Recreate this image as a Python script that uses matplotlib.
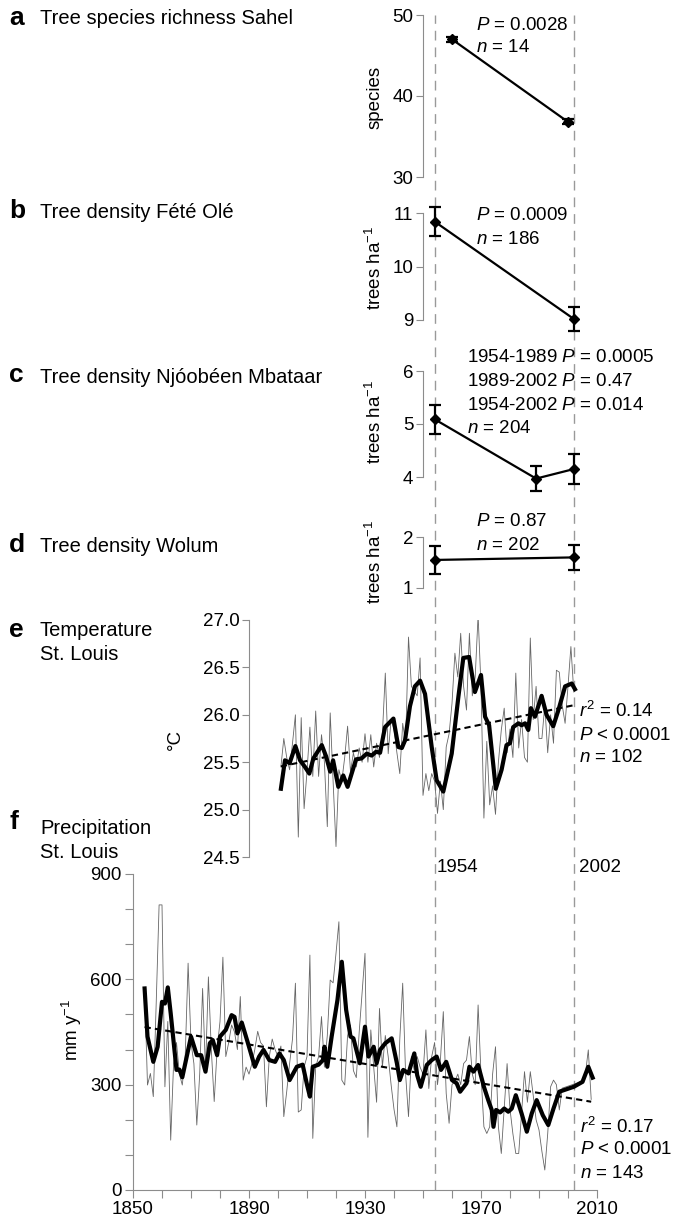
import numpy as np
import matplotlib.pyplot as plt

plt.rcParams['font.family'] = ['Liberation Sans', 'DejaVu Sans']
plt.rcParams['mathtext.fontset'] = 'custom'
plt.rcParams['mathtext.rm'] = 'Liberation Sans'
plt.rcParams['mathtext.it'] = 'Liberation Sans:italic'
plt.rcParams['mathtext.default'] = 'regular'

# ---- tree surveys (mean +/- error) ----
rich_years = [1960, 2000]
rich_vals = [47, 36.8]
rich_err = [0.3, 0.3]

fete_years = [1954, 2002]
fete_vals = [10.84, 9.02]
fete_err = [0.27, 0.23]

njoo_years = [1954, 1989, 2002]
njoo_vals = [5.09, 3.97, 4.15]
njoo_err = [0.27, 0.23, 0.29]

wolum_years = [1954, 2002]
wolum_vals = [1.55, 1.60]
wolum_err = [0.28, 0.24]

# ---- temperature St. Louis, annual mean (1901-2002) ----
temp_years = np.arange(1901, 2003)
temp_vals = [25.45, 25.75, 25.55, 25.42, 25.70, 26.00, 24.71, 25.97, 25.01, 25.40,
             25.87, 25.35, 26.04, 25.35, 25.79, 25.50, 24.82, 26.02, 25.30, 24.61,
             25.42, 25.30, 25.55, 25.88, 25.40, 25.60, 25.45, 25.65, 25.50, 25.80,
             25.50, 25.79, 25.45, 25.70, 25.55, 25.80, 26.44, 25.59, 25.95, 25.85,
             25.60, 25.38, 25.91, 25.70, 26.82, 26.30, 26.25, 26.20, 26.60, 25.15,
             25.38, 25.20, 25.38, 25.30, 24.96, 25.30, 25.00, 25.66, 25.80, 26.12,
             26.65, 26.40, 26.86, 26.30, 26.05, 26.86, 26.20, 26.40, 27.05, 26.30,
             24.91, 25.72, 25.05, 25.25, 24.95, 25.50, 25.84, 26.07, 25.60, 25.85,
             25.55, 26.44, 25.65, 25.95, 25.55, 25.50, 26.81, 25.95, 26.30, 25.75,
             25.75, 26.10, 25.60, 26.00, 25.70, 26.47, 26.45, 26.10, 25.91, 26.30,
             26.72, 26.24]

# smoothed temperature
temp_sm_years = [1901, 1902.4, 1904, 1906, 1907.6, 1909.3, 1910.8, 1912.2, 1915.1, 1916.6,
                 1918, 1919, 1920.8, 1922.5, 1924, 1926.9, 1928.8, 1930.6, 1932.3, 1933.8,
                 1935.2, 1936.9, 1939.8, 1941.5, 1942.7, 1943.8, 1945.5, 1947.2, 1949, 1950.7,
                 1951.8, 1953, 1954.7, 1957, 1959.9, 1962.2, 1963.9, 1965.9, 1967.9, 1970,
                 1971.4, 1972.8, 1975.1, 1977.1, 1978.8, 1980, 1981.1, 1982.9, 1984, 1985.2,
                 1986.3, 1987.2, 1988.6, 1990.9, 1992.6, 1994.9, 1996.7, 1999, 2001.3, 2002.4]
temp_sm = [25.22, 25.52, 25.49, 25.67, 25.52, 25.45, 25.38, 25.54, 25.68, 25.56,
           25.40, 25.52, 25.24, 25.36, 25.24, 25.53, 25.54, 25.59, 25.57, 25.61,
           25.60, 25.87, 25.96, 25.66, 25.65, 25.73, 26.09, 26.30, 26.36, 26.22,
           25.95, 25.66, 25.31, 25.19, 25.59, 26.19, 26.60, 26.61, 26.24, 26.42,
           25.98, 25.89, 25.22, 25.42, 25.68, 25.70, 25.87, 25.91, 25.89, 25.91,
           25.84, 26.07, 25.98, 26.20, 26.00, 25.88, 26.05, 26.30, 26.33, 26.27]

# ---- precipitation St. Louis, annual total ----
prec_years = list(range(1854, 1999)) + [2005, 2006, 2007, 2008]
prec_vals = [575, 299, 332, 266, 532, 812, 812, 294, 480, 142,
             361, 420, 330, 299, 380, 646, 420, 360, 185, 330,
             574, 340, 607, 400, 252, 400, 480, 663, 380, 420,
             470, 450, 400, 551, 313, 350, 330, 360, 400, 452,
             420, 410, 237, 380, 430, 400, 380, 410, 209, 280,
             360, 430, 589, 222, 228, 350, 380, 669, 147, 350,
             380, 494, 350, 440, 598, 590, 674, 764, 313, 299,
             440, 470, 340, 320, 450, 560, 674, 150, 456, 350,
             250, 517, 350, 440, 380, 300, 230, 180, 430, 589,
             330, 209, 380, 340, 380, 350, 330, 456, 289, 380,
             420, 300, 370, 508, 275, 190, 300, 310, 330, 300,
             360, 370, 437, 330, 300, 527, 330, 180, 161, 180,
             330, 408, 180, 104, 230, 360, 230, 160, 104, 104,
             220, 337, 250, 337, 270, 200, 171, 110, 57, 160,
             294, 313, 300, 228, 290,
             310, 330, 399, 258]

# smoothed precipitation
prec_sm_years = [1854, 1855, 1857, 1858.5, 1860, 1861, 1862, 1863, 1865, 1866,
                 1867, 1870, 1872, 1873.5, 1875, 1876.5, 1877.5, 1879, 1880, 1882,
                 1884, 1885, 1886, 1887.5, 1889.5, 1892, 1893.5, 1895, 1897, 1899,
                 1900.5, 1902, 1904, 1906.5, 1908.5, 1910, 1911, 1912, 1914, 1915.5,
                 1916, 1917, 1918.5, 1920.5, 1922, 1923.5, 1925, 1926, 1928.2, 1930,
                 1931.2, 1933, 1934, 1935.2, 1937, 1939.2, 1941, 1942, 1943.2, 1945,
                 1947, 1948, 1949.2, 1951.3, 1953, 1954.7, 1956.2, 1958, 1960, 1961.6,
                 1962.8, 1965, 1966, 1967.4, 1969, 1971, 1972.5, 1973.7, 1974.3, 1975.2,
                 1976.6, 1978, 1979.4, 1980.6, 1982, 1984, 1985.8, 1987.5, 1989.2, 1991.3,
                 1993.2, 1995, 1997, 2002, 2005, 2007, 2008.5]
prec_sm = [574, 437, 365, 408, 536, 531, 577, 503, 342, 343,
           321, 437, 384, 384, 337, 418, 427, 384, 437, 456,
           498, 493, 446, 477, 422, 351, 380, 399, 370, 365,
           389, 370, 313, 351, 357, 300, 266, 351, 357, 370,
           408, 351, 437, 541, 650, 513, 437, 432, 361, 465,
           380, 408, 361, 399, 418, 432, 361, 313, 342, 332,
           389, 327, 294, 356, 370, 380, 342, 365, 313, 304,
           280, 304, 351, 337, 356, 294, 256, 228, 180, 228,
           221, 232, 223, 232, 270, 218, 166, 218, 256, 213,
           185, 232, 280, 294, 308, 351, 320]

W, H = 675, 1222
X0, X1 = 133, 597
GRAY = '#8c8c8c'

fig = plt.figure(figsize=(W / 100, H / 100), dpi=100)


def panel(top, bottom):
    return fig.add_axes([X0 / W, 1 - bottom / H, (X1 - X0) / W, (bottom - top) / H])


def txt(x, y, s, **kw):
    kw.setdefault('va', 'center')
    kw.setdefault('fontsize', 13.5)
    fig.text(x / W, 1 - y / H, s, **kw)


def letter(y, s):
    txt(9, y, s, fontweight='bold', fontsize=19)


def style(ax, spine_x, lo, hi, ticks):
    ax.set_facecolor('none')
    ax.set_xlim(1850, 2010)
    ax.set_ylim(lo, hi)
    for s in ['top', 'right', 'bottom']:
        ax.spines[s].set_visible(False)
    ax.spines['left'].set_position(('data', spine_x))
    ax.spines['left'].set_color(GRAY)
    ax.set_xticks([])
    ax.set_yticks(ticks)
    ax.tick_params(axis='y', colors=GRAY, labelcolor='black', length=5,
                   width=0.8, labelsize=13.5, pad=2)


def survey(ax, x, y, err):
    eb = ax.errorbar(x, y, yerr=err, fmt='-D', color='black', ms=5, lw=1.6,
                     elinewidth=1.6, capsize=4, capthick=1.6)
    line, caps, bars = eb.lines
    line.set_clip_on(False)
    for c in list(caps) + list(bars):
        c.set_clip_on(False)


# dashed survey years across all panels
over = panel(15, 1190)
over.set_xlim(1850, 2010)
over.axis('off')
for yr in [1954, 2002]:
    over.axvline(yr, color='#999999', lw=1.0, dashes=(7, 5))

# a
ax = panel(15, 177)
style(ax, 1950, 30, 50, [30, 40, 50])
survey(ax, rich_years, rich_vals, rich_err)
letter(18, 'a')
txt(40, 18, 'Tree species richness Sahel', fontsize=14.5)
txt(375, 97, 'species', rotation=90, ha='center')
txt(476, 25, r'$\mathit{P}$ = 0.0028')
txt(476, 48, r'$\mathit{n}$ = 14')

# b
ax = panel(213, 320)
style(ax, 1950, 9, 11, [9, 10, 11])
survey(ax, fete_years, fete_vals, fete_err)
letter(211, 'b')
txt(40, 213, 'Tree density Fété Olé', fontsize=14.5)
txt(375, 268, r'trees ha$^{-1}$', rotation=90, ha='center')
txt(476, 215, r'$\mathit{P}$ = 0.0009')
txt(476, 239, r'$\mathit{n}$ = 186')

# c
ax = panel(371, 477)
style(ax, 1950, 4, 6, [4, 5, 6])
survey(ax, njoo_years, njoo_vals, njoo_err)
letter(375, 'c')
txt(40, 377, 'Tree density Njóobéen Mbataar', fontsize=14.5)
txt(375, 422, r'trees ha$^{-1}$', rotation=90, ha='center')
txt(467, 358, r'1954-1989 $\mathit{P}$ = 0.0005')
txt(467, 382, r'1989-2002 $\mathit{P}$ = 0.47')
txt(467, 405, r'1954-2002 $\mathit{P}$ = 0.014')
txt(467, 428, r'$\mathit{n}$ = 204')

# d
ax = panel(537, 588)
style(ax, 1950, 1, 2, [1, 2])
survey(ax, wolum_years, wolum_vals, wolum_err)
letter(545, 'd')
txt(40, 547, 'Tree density Wolum', fontsize=14.5)
txt(375, 562, r'trees ha$^{-1}$', rotation=90, ha='center')
txt(476, 522, r'$\mathit{P}$ = 0.87')
txt(476, 546, r'$\mathit{n}$ = 202')

# e temperature
ax = panel(620, 857)
style(ax, 1890, 24.5, 27.0, [24.5, 25.0, 25.5, 26.0, 26.5, 27.0])
ax.yaxis.set_major_formatter(plt.FormatStrFormatter('%.1f'))
ax.plot(temp_years, temp_vals, color='#666666', lw=0.6)
ax.plot(temp_sm_years, temp_sm, color='black', lw=3.0)
k, b0 = np.polyfit(temp_years, temp_vals, 1)
ax.plot(temp_years, k * temp_years + b0, color='black', lw=1.5, dashes=(3, 2))
letter(630, 'e')
txt(40, 630, 'Temperature', fontsize=14.5)
txt(40, 655, 'St. Louis', fontsize=14.5)
txt(175, 740, '°C', rotation=90, ha='center')
txt(437, 867, '1954')
txt(579, 867, '2002')
txt(579, 711, r'$\mathit{r}^{2}$ = 0.14')
txt(579, 735, r'$\mathit{P}$ < 0.0001')
txt(579, 758, r'$\mathit{n}$ = 102')

# f precipitation
ax = panel(874, 1190)
ax.set_facecolor('none')
ax.set_xlim(1850, 2010)
ax.set_ylim(0, 900)
for s in ['top', 'right']:
    ax.spines[s].set_visible(False)
for s in ['left', 'bottom']:
    ax.spines[s].set_color(GRAY)
ax.set_xticks([1850, 1890, 1930, 1970, 2010])
ax.set_xticks(range(1850, 2011, 10), minor=True)
ax.set_yticks([0, 300, 600, 900])
ax.set_yticks(range(0, 901, 100), minor=True)
ax.tick_params(which='both', colors=GRAY, labelcolor='black', length=6,
               width=0.8, labelsize=13.5, pad=2)
px = np.array(prec_years)
ax.plot(px, prec_vals, color='#666666', lw=0.6)
ax.plot(prec_sm_years, prec_sm, color='black', lw=3.0)
k, b0 = np.polyfit(px, prec_vals, 1)
ax.plot(px, k * px + b0, color='black', lw=1.5, dashes=(3, 2))
letter(822, 'f')
txt(40, 828, 'Precipitation', fontsize=14.5)
txt(40, 853, 'St. Louis', fontsize=14.5)
txt(72, 1030, r'mm y$^{-1}$', rotation=90, ha='center')
txt(580, 1127, r'$\mathit{r}^{2}$ = 0.17')
txt(580, 1150, r'$\mathit{P}$ < 0.0001')
txt(580, 1174, r'$\mathit{n}$ = 143')

fig.savefig('out.png', dpi=100)
